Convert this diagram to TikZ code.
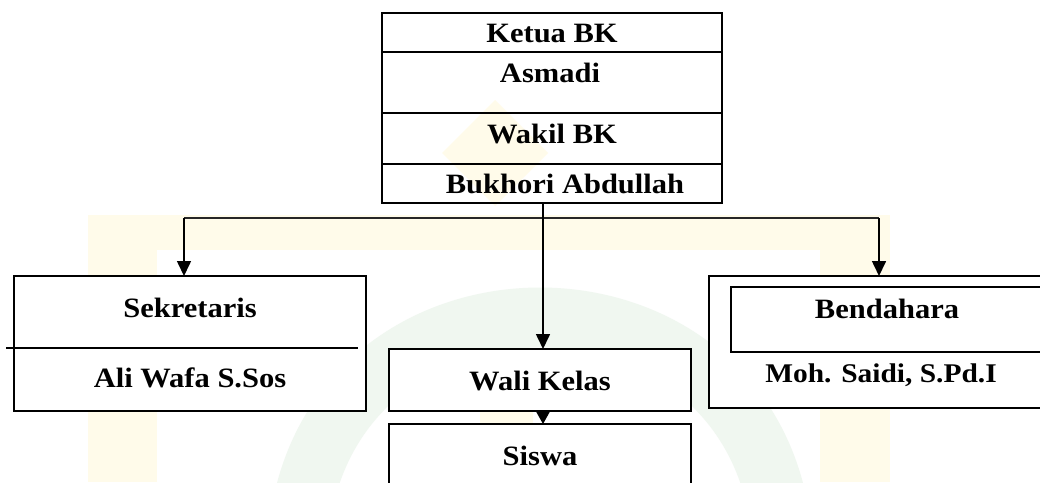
\documentclass[tikz,border=0pt]{standalone}
\usepackage{fontspec}
\setmainfont{Liberation Serif}
\usepackage{graphicx}
\usetikzlibrary{arrows.meta}
\definecolor{wmyellow}{HTML}{FFFBEA}
\definecolor{wmgreen}{HTML}{F0F7F0}
\newcommand{\wtxt}[1]{\scalebox{1.09}[1]{#1}}
\begin{document}
\begin{tikzpicture}[x=1pt,y=-1pt,
  box/.style={draw=black, line width=1.7pt, inner sep=0pt, outer sep=0pt},
  wbox/.style={box, fill=white},
  lbl/.style={font=\bfseries\fontsize{28}{32}\selectfont, inner sep=0pt, anchor=base},
  slbl/.style={font=\bfseries\fontsize{27}{32}\selectfont, inner sep=0pt, anchor=base},
  conn/.style={line width=1.5pt, draw=black!85},
  arr/.style={line width=1.6pt, -{Triangle[width=14pt,length=15pt]}},
  sarr/.style={line width=1.6pt, -{Triangle[width=13pt,length=12pt]}}]
\useasboundingbox (0,0) rectangle (1040,482);
\clip (0,0) rectangle (1040,482);
\fill[white] (0,0) rectangle (1040,482);
% faint watermark
\fill[wmyellow] (88,215) rectangle (157,482);
\fill[wmyellow] (820,215) rectangle (890,482);
\fill[wmyellow] (88,215) rectangle (890,250);
\fill[wmyellow] (480,400) rectangle (533,482);
\fill[wmyellow] (495,100) -- (548,153) -- (495,206) -- (442,153) -- cycle;
\draw[wmgreen, line width=60pt] (300,520) .. controls (340,250) and (740,250) .. (780,520);
% top box
\node[box, minimum width=340, minimum height=190] (top) at (552,108) {};
\draw[box] (382,52) -- (722,52);
\draw[box] (382,113) -- (722,113);
\draw[box] (382,164) -- (722,164);
\node[lbl] (t1) at (552,42) {\wtxt{Ketua BK}};
\node[lbl] (t2) at (550,82.5) {\wtxt{Asmadi}};
\node[lbl] (t3) at (552,143.5) {\wtxt{Wakil BK}};
\node[lbl] (t4) at (565,193.5) {\wtxt{Bukhori Abdullah}};
% Sekretaris
\node[wbox, minimum width=352, minimum height=135] (sek) at (190,343.5) {};
\draw[box] (6,348) -- (358,348);
\node[lbl] (s1) at (190,317.5) {\wtxt{Sekretaris}};
\node[lbl] (s2) at (190,387.5) {\wtxt{Ali Wafa S.Sos}};
% Wali Kelas and Siswa
\node[wbox, minimum width=302, minimum height=62] (wali) at (540,380) {};
\node[lbl] (w1) at (540,390.5) {\wtxt{Wali Kelas}};
\node[wbox, minimum width=302, minimum height=80] (siswa) at (540,464) {};
\node[lbl] (w2) at (540,465.5) {\wtxt{Siswa}};
% Bendahara
\node[wbox, minimum width=351, minimum height=132] (bend) at (884.5,342) {};
\node[box, minimum width=329, minimum height=65] (bendin) at (895.5,319.5) {};
\node[lbl] (b1) at (887,318.5) {\wtxt{Bendahara}};
\node[slbl] (b2) at (881,382.5) {\wtxt{Moh. Saidi, S.Pd.I}};
% connectors
\coordinate (hl) at (184,218);
\coordinate (hr) at (879,218);
\coordinate (mid) at (543,218);
\draw[conn] (hl) -- (hr);
\draw[arr] (hl) -- (hl |- sek.north);
\draw[arr] (hr) -- (hr |- bend.north);
\draw[arr] (mid |- top.south) -- (mid |- wali.north);
\draw[sarr] (mid |- wali.south) -- (mid |- siswa.north);
\end{tikzpicture}
\end{document}
